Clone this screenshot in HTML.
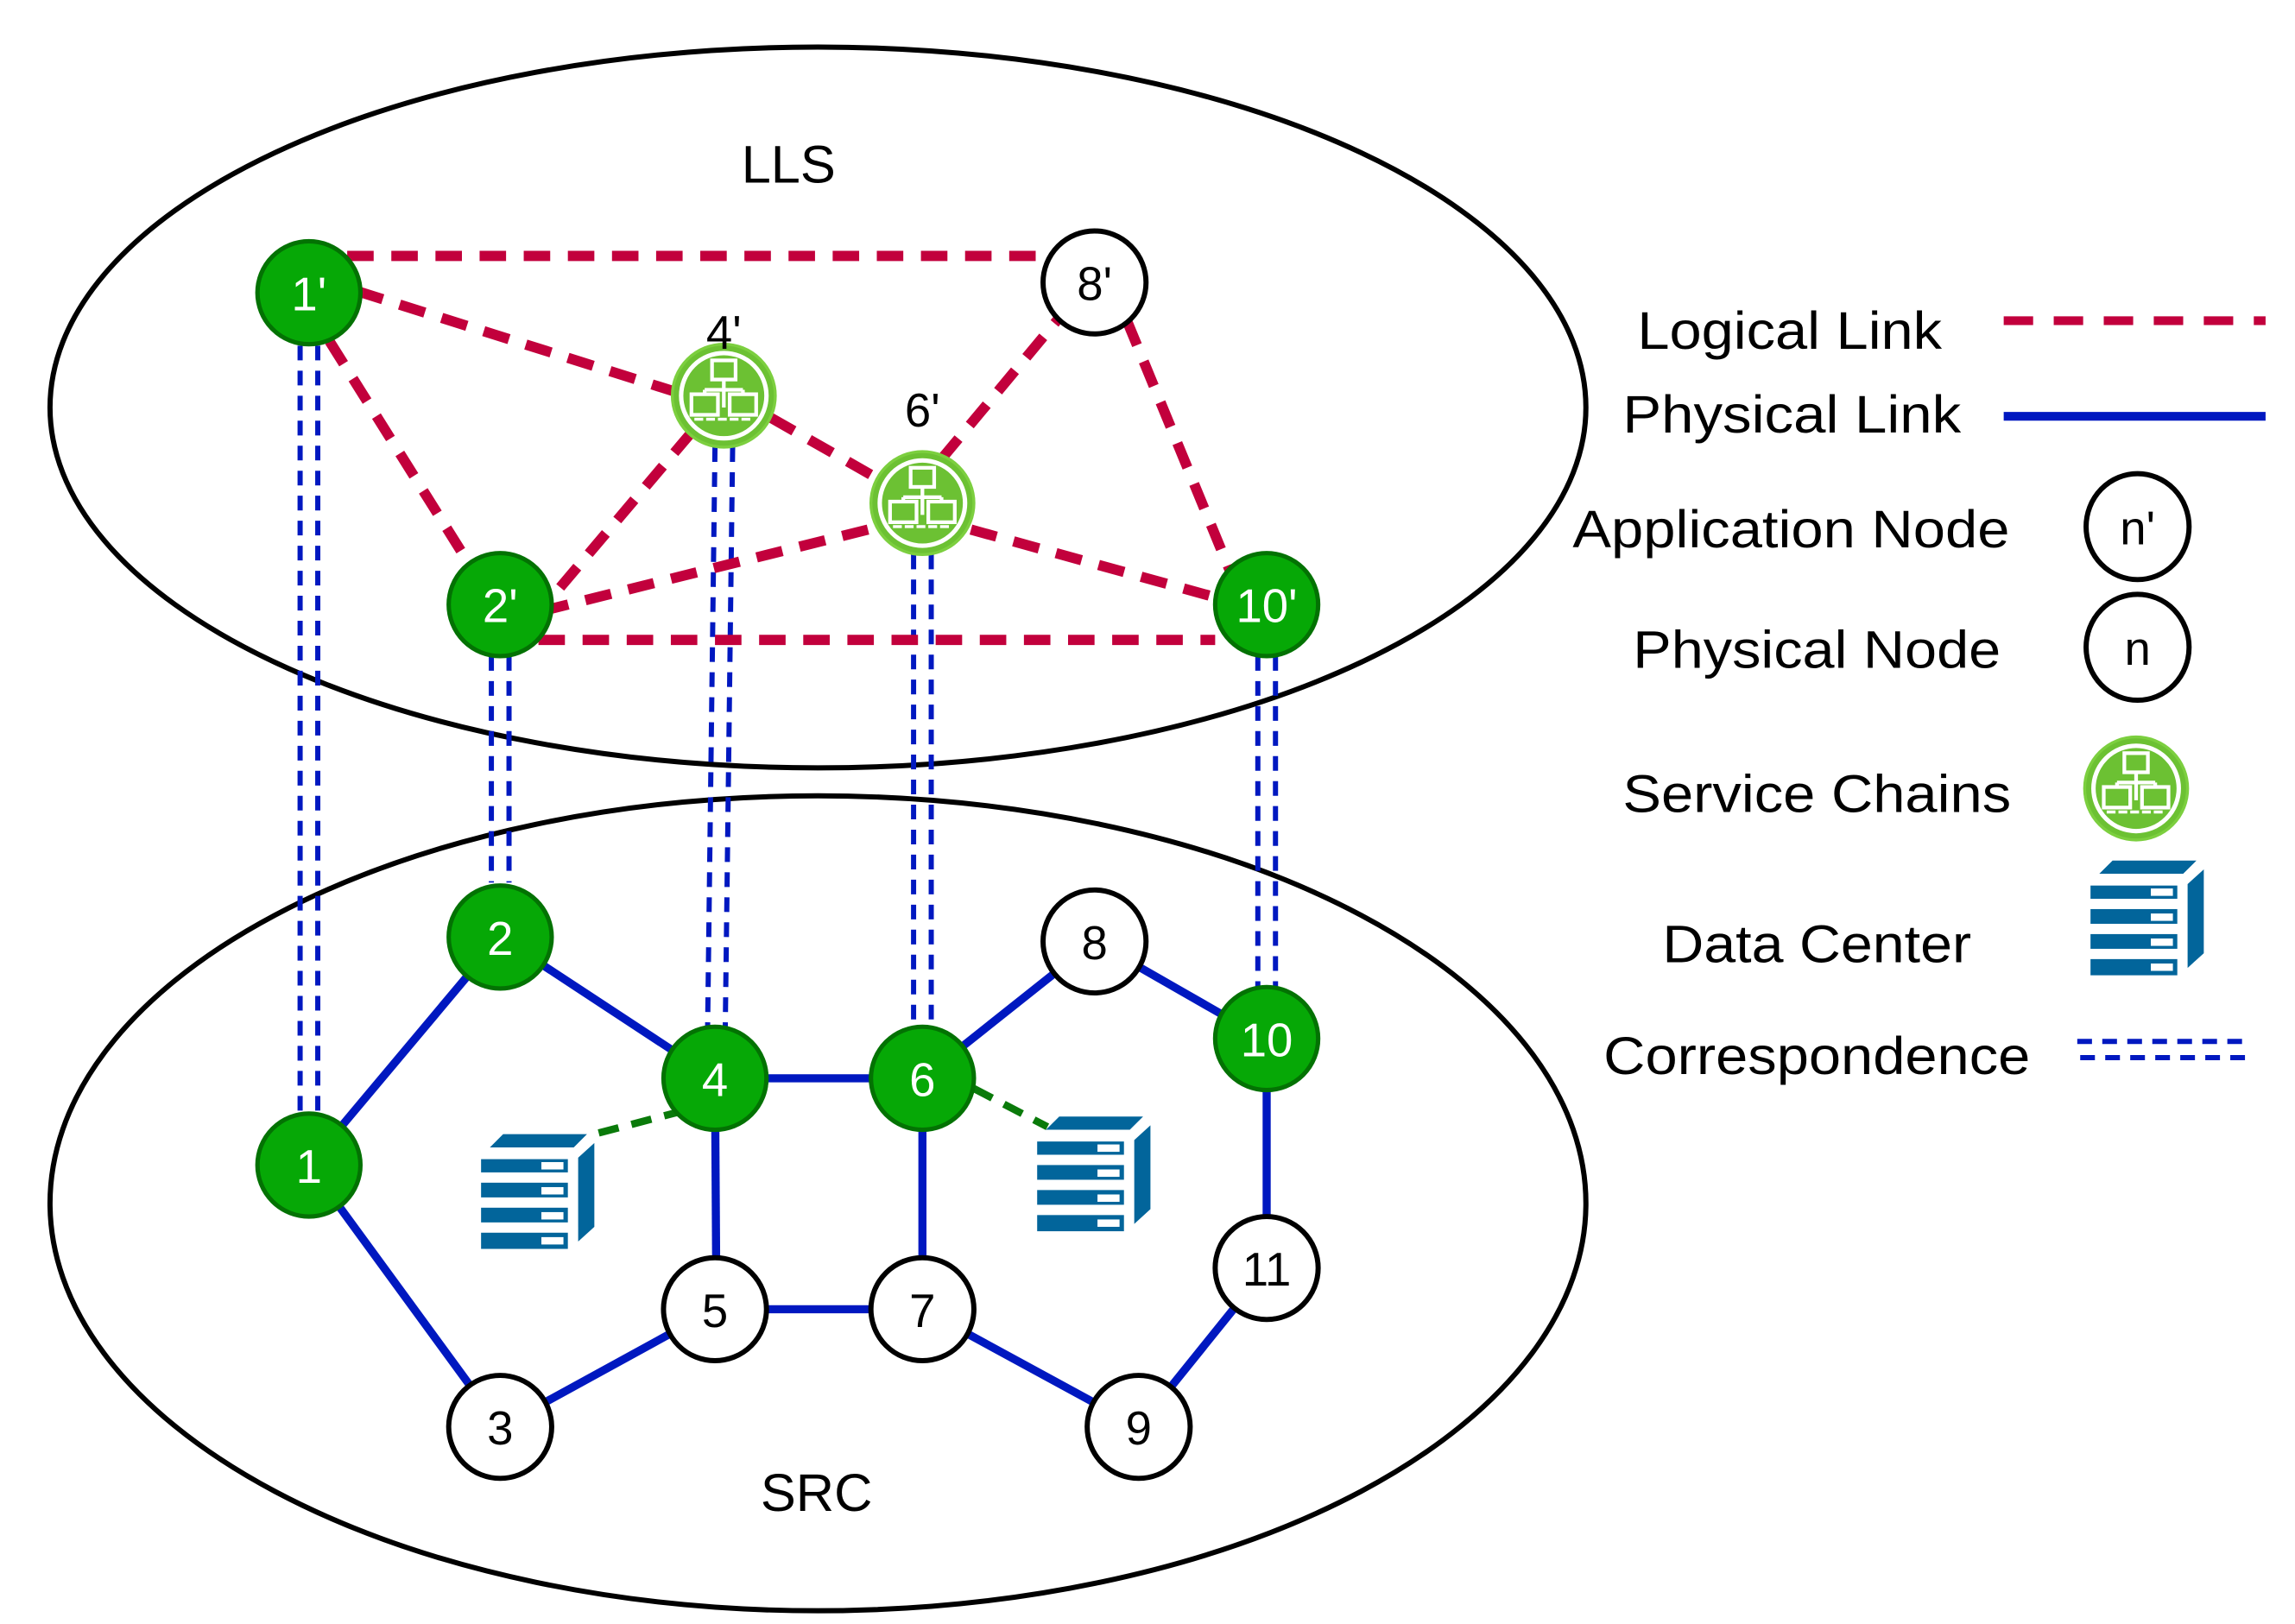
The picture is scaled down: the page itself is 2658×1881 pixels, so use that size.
<!DOCTYPE html>
<html><head><meta charset="utf-8"><style>
html,body{margin:0;padding:0;background:#fff;}
svg{display:block;}
text{font-family:"Liberation Sans",sans-serif;}
</style></head><body>
<svg width="2658" height="1881" viewBox="0 0 1560 1104" preserveAspectRatio="none" xmlns="http://www.w3.org/2000/svg">
<defs>
<g id="sc">
  <circle r="35" fill="#6cc133" stroke="#7ccf3f" stroke-width="2"/>
  <circle r="29" fill="none" stroke="#fff" stroke-width="3"/>
  <rect x="-8" y="-24" width="16" height="13" fill="#6cc133" stroke="#fff" stroke-width="2.5"/>
  <path d="M0 -11 V8 M-13 -4 H13 M-13 -4 V0 M13 -4 V0" stroke="#fff" stroke-width="2.5" fill="none"/>
  <rect x="-22" y="-1" width="18" height="14" fill="#6cc133" stroke="#fff" stroke-width="2.5"/>
  <rect x="4" y="-1" width="18" height="14" fill="#6cc133" stroke="#fff" stroke-width="2.5"/>
  <path d="M-20 16 H20" stroke="#fff" stroke-width="2" stroke-dasharray="6 2"/>
</g>
<g id="dc">
  <polygon points="15,0 72,0 63,9 6,9" fill="#02659b"/>
  <rect x="0" y="17" width="59" height="9" fill="#02659b"/>
  <rect x="0" y="33" width="59" height="10" fill="#02659b"/>
  <rect x="0" y="50" width="59" height="10" fill="#02659b"/>
  <rect x="0" y="67" width="59" height="11" fill="#02659b"/>
  <rect x="41" y="19" width="15" height="5" fill="#fff"/>
  <rect x="41" y="36" width="15" height="5" fill="#fff"/>
  <rect x="41" y="53" width="15" height="5" fill="#fff"/>
  <rect x="41" y="70" width="15" height="5" fill="#fff"/>
  <polygon points="66,16 77,6 77,63 66,73" fill="#02659b"/>
</g>
</defs>

<ellipse cx="556" cy="277" rx="522" ry="245" fill="none" stroke="#000" stroke-width="3.5"/>
<ellipse cx="556" cy="818" rx="522" ry="277" fill="none" stroke="#000" stroke-width="3.5"/>
<text x="536" y="124" font-size="36" text-anchor="middle">LLS</text>
<text x="555" y="1027" font-size="36" text-anchor="middle">SRC</text>

<g stroke="#0018c0" stroke-width="3.5" stroke-dasharray="10 7" fill="none">
  <line x1="204" y1="235" x2="204" y2="757"/><line x1="216" y1="235" x2="216" y2="757"/>
  <line x1="334" y1="446" x2="334" y2="600"/><line x1="346" y1="446" x2="346" y2="600"/>
  <line x1="486" y1="304" x2="481" y2="698"/><line x1="498" y1="304" x2="493" y2="698"/>
  <line x1="621" y1="377" x2="621" y2="698"/><line x1="633" y1="377" x2="633" y2="698"/>
  <line x1="855" y1="446" x2="855" y2="672"/><line x1="867" y1="446" x2="867" y2="672"/>
</g>

<g stroke="#c2003c" stroke-width="7" stroke-dasharray="18 12" fill="none">
  <line x1="236" y1="174" x2="712" y2="174"/>
  <line x1="243" y1="198" x2="458" y2="266"/>
  <line x1="224" y1="232" x2="318" y2="382"/>
  <line x1="470" y1="294" x2="370" y2="412"/>
  <line x1="524" y1="284" x2="596" y2="325"/>
  <line x1="590" y1="360" x2="374" y2="414"/>
  <line x1="640" y1="312" x2="720" y2="216"/>
  <line x1="660" y1="360" x2="826" y2="406"/>
  <line x1="766" y1="218" x2="836" y2="388"/>
  <line x1="366" y1="435" x2="826" y2="435"/>
</g>

<g stroke="#0018c0" stroke-width="5.5" fill="none">
  <line x1="210" y1="792" x2="340" y2="637"/>
  <line x1="340" y1="637" x2="486" y2="733"/>
  <line x1="486" y1="733" x2="627" y2="733"/>
  <line x1="627" y1="733" x2="744" y2="640"/>
  <line x1="744" y1="640" x2="861" y2="707"/>
  <line x1="861" y1="707" x2="861" y2="862"/>
  <line x1="861" y1="862" x2="774" y2="970"/>
  <line x1="774" y1="970" x2="627" y2="890"/>
  <line x1="627" y1="890" x2="486" y2="890"/>
  <line x1="486" y1="890" x2="340" y2="970"/>
  <line x1="340" y1="970" x2="210" y2="792"/>
  <line x1="486" y1="733" x2="487" y2="890"/>
  <line x1="627" y1="733" x2="627" y2="890"/>
</g>
<g stroke="#0a7a0a" stroke-width="5" stroke-dasharray="14 9" fill="none">
  <line x1="465" y1="755" x2="400" y2="772"/>
  <line x1="662" y1="740" x2="712" y2="766"/>
</g>
<use href="#dc" x="327" y="771"/>
<use href="#dc" x="705" y="759"/>

<g fill="#06a806" stroke="#037203" stroke-width="3">
  <circle cx="210" cy="199" r="35"/><circle cx="340" cy="411" r="35"/><circle cx="861" cy="411" r="35"/>
  <circle cx="340" cy="637" r="35"/><circle cx="861" cy="706" r="35"/><circle cx="210" cy="792" r="35"/>
  <circle cx="486" cy="733" r="35"/><circle cx="627" cy="733" r="35"/>
</g>
<g fill="#fff" stroke="#000" stroke-width="3.5">
  <circle cx="744" cy="192" r="35"/><circle cx="744" cy="640" r="35"/><circle cx="861" cy="862" r="35"/>
  <circle cx="486" cy="890" r="35"/><circle cx="627" cy="890" r="35"/><circle cx="340" cy="970" r="35"/>
  <circle cx="774" cy="970" r="35"/>
</g>
<use href="#sc" x="492" y="269"/>
<use href="#sc" x="627" y="342"/>

<g font-size="32" text-anchor="middle" fill="#fff">
  <text x="210" y="211">1'</text><text x="340" y="423">2'</text><text x="861" y="423">10'</text>
  <text x="340" y="649">2</text><text x="861" y="718">10</text><text x="210" y="804">1</text>
  <text x="486" y="745">4</text><text x="627" y="745">6</text>
</g>
<g font-size="32" text-anchor="middle" fill="#000">
  <text x="744" y="204">8'</text><text x="744" y="652">8</text><text x="861" y="874">11</text>
  <text x="486" y="902">5</text><text x="627" y="902">7</text><text x="340" y="982">3</text><text x="774" y="982">9</text>
  <text x="492" y="237">4'</text><text x="627" y="290">6'</text>
</g>

<g font-size="36" fill="#000">
  <text x="1113" y="237" textLength="207" lengthAdjust="spacingAndGlyphs">Logical Link</text>
  <text x="1103" y="294" textLength="230" lengthAdjust="spacingAndGlyphs">Physical Link</text>
  <text x="1069" y="372" textLength="297" lengthAdjust="spacingAndGlyphs">Application Node</text>
  <text x="1110" y="454" textLength="250" lengthAdjust="spacingAndGlyphs">Physical Node</text>
  <text x="1103" y="552" textLength="264" lengthAdjust="spacingAndGlyphs">Service Chains</text>
  <text x="1130" y="654" textLength="210" lengthAdjust="spacingAndGlyphs">Data Center</text>
  <text x="1090" y="730" textLength="290" lengthAdjust="spacingAndGlyphs">Correspondence</text>
</g>
<line x1="1362" y1="218" x2="1540" y2="218" stroke="#c2003c" stroke-width="6" stroke-dasharray="20 14"/>
<line x1="1362" y1="283" x2="1540" y2="283" stroke="#0018c0" stroke-width="6"/>
<g fill="#fff" stroke="#000" stroke-width="3.5">
  <ellipse cx="1453" cy="358" rx="35" ry="36"/><ellipse cx="1453" cy="440" rx="35" ry="36"/>
</g>
<text x="1453" y="370" font-size="32" text-anchor="middle">n'</text>
<text x="1453" y="452" font-size="32" text-anchor="middle">n</text>
<use href="#sc" x="1452" y="536"/>
<use href="#dc" x="1421" y="585"/>
<line x1="1412" y1="708" x2="1525" y2="708" stroke="#0018c0" stroke-width="3.5" stroke-dasharray="10 7"/>
<line x1="1414" y1="719" x2="1527" y2="719" stroke="#0018c0" stroke-width="3.5" stroke-dasharray="10 7"/>
</svg>
</body></html>
